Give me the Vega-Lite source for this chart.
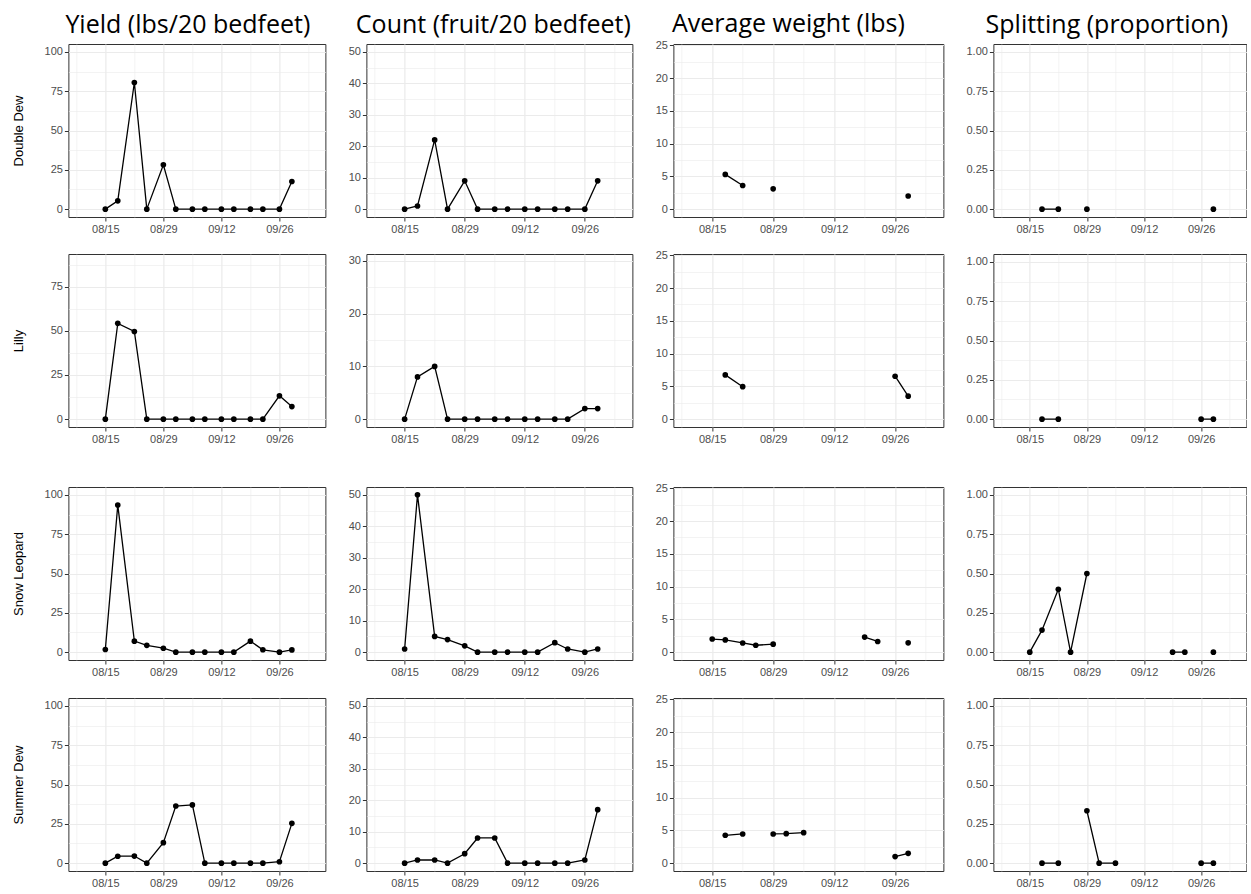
{
"$schema": "https://vega.github.io/schema/vega-lite/v6.json",
"background": "white",
"padding": {"left": 11, "top": 11, "right": 0, "bottom": 0},
"data": {"name": "d"},
"datasets": {"d": [
{"v":"Double Dew","date":"2017-08-15T00:00:00","yield":0,"count":0,"weight":null,"split":null},
{"v":"Double Dew","date":"2017-08-18T00:00:00","yield":5.3,"count":1,"weight":5.3,"split":0},
{"v":"Double Dew","date":"2017-08-22T00:00:00","yield":80.5,"count":22,"weight":3.6,"split":0},
{"v":"Double Dew","date":"2017-08-25T00:00:00","yield":0,"count":0,"weight":null,"split":null},
{"v":"Double Dew","date":"2017-08-29T00:00:00","yield":28.2,"count":9,"weight":3.1,"split":0},
{"v":"Double Dew","date":"2017-09-01T00:00:00","yield":0,"count":0,"weight":null,"split":null},
{"v":"Double Dew","date":"2017-09-05T00:00:00","yield":0,"count":0,"weight":null,"split":null},
{"v":"Double Dew","date":"2017-09-08T00:00:00","yield":0,"count":0,"weight":null,"split":null},
{"v":"Double Dew","date":"2017-09-12T00:00:00","yield":0,"count":0,"weight":null,"split":null},
{"v":"Double Dew","date":"2017-09-15T00:00:00","yield":0,"count":0,"weight":null,"split":null},
{"v":"Double Dew","date":"2017-09-19T00:00:00","yield":0,"count":0,"weight":null,"split":null},
{"v":"Double Dew","date":"2017-09-22T00:00:00","yield":0,"count":0,"weight":null,"split":null},
{"v":"Double Dew","date":"2017-09-26T00:00:00","yield":0,"count":0,"weight":null,"split":null},
{"v":"Double Dew","date":"2017-09-29T00:00:00","yield":17.6,"count":9,"weight":2.0,"split":0},
{"v":"Lilly","date":"2017-08-15T00:00:00","yield":0,"count":0,"weight":null,"split":null},
{"v":"Lilly","date":"2017-08-18T00:00:00","yield":54.2,"count":8,"weight":6.75,"split":0},
{"v":"Lilly","date":"2017-08-22T00:00:00","yield":49.6,"count":10,"weight":4.95,"split":0},
{"v":"Lilly","date":"2017-08-25T00:00:00","yield":0,"count":0,"weight":null,"split":null},
{"v":"Lilly","date":"2017-08-29T00:00:00","yield":0,"count":0,"weight":null,"split":null},
{"v":"Lilly","date":"2017-09-01T00:00:00","yield":0,"count":0,"weight":null,"split":null},
{"v":"Lilly","date":"2017-09-05T00:00:00","yield":0,"count":0,"weight":null,"split":null},
{"v":"Lilly","date":"2017-09-08T00:00:00","yield":0,"count":0,"weight":null,"split":null},
{"v":"Lilly","date":"2017-09-12T00:00:00","yield":0,"count":0,"weight":null,"split":null},
{"v":"Lilly","date":"2017-09-15T00:00:00","yield":0,"count":0,"weight":null,"split":null},
{"v":"Lilly","date":"2017-09-19T00:00:00","yield":0,"count":0,"weight":null,"split":null},
{"v":"Lilly","date":"2017-09-22T00:00:00","yield":0,"count":0,"weight":null,"split":null},
{"v":"Lilly","date":"2017-09-26T00:00:00","yield":13.2,"count":2,"weight":6.55,"split":0},
{"v":"Lilly","date":"2017-09-29T00:00:00","yield":7.1,"count":2,"weight":3.5,"split":0},
{"v":"Snow Leopard","date":"2017-08-15T00:00:00","yield":1.7,"count":1,"weight":2.0,"split":0},
{"v":"Snow Leopard","date":"2017-08-18T00:00:00","yield":93.5,"count":50,"weight":1.87,"split":0.14},
{"v":"Snow Leopard","date":"2017-08-22T00:00:00","yield":7,"count":5,"weight":1.4,"split":0.4},
{"v":"Snow Leopard","date":"2017-08-25T00:00:00","yield":4.3,"count":4,"weight":1.05,"split":0},
{"v":"Snow Leopard","date":"2017-08-29T00:00:00","yield":2.5,"count":2,"weight":1.22,"split":0.5},
{"v":"Snow Leopard","date":"2017-09-01T00:00:00","yield":0,"count":0,"weight":null,"split":null},
{"v":"Snow Leopard","date":"2017-09-05T00:00:00","yield":0,"count":0,"weight":null,"split":null},
{"v":"Snow Leopard","date":"2017-09-08T00:00:00","yield":0,"count":0,"weight":null,"split":null},
{"v":"Snow Leopard","date":"2017-09-12T00:00:00","yield":0,"count":0,"weight":null,"split":null},
{"v":"Snow Leopard","date":"2017-09-15T00:00:00","yield":0,"count":0,"weight":null,"split":null},
{"v":"Snow Leopard","date":"2017-09-19T00:00:00","yield":7,"count":3,"weight":2.3,"split":0},
{"v":"Snow Leopard","date":"2017-09-22T00:00:00","yield":1.5,"count":1,"weight":1.63,"split":0},
{"v":"Snow Leopard","date":"2017-09-26T00:00:00","yield":0,"count":0,"weight":null,"split":null},
{"v":"Snow Leopard","date":"2017-09-29T00:00:00","yield":1.4,"count":1,"weight":1.42,"split":0},
{"v":"Summer Dew","date":"2017-08-15T00:00:00","yield":0,"count":0,"weight":null,"split":null},
{"v":"Summer Dew","date":"2017-08-18T00:00:00","yield":4.4,"count":1,"weight":4.25,"split":0},
{"v":"Summer Dew","date":"2017-08-22T00:00:00","yield":4.5,"count":1,"weight":4.45,"split":0},
{"v":"Summer Dew","date":"2017-08-25T00:00:00","yield":0,"count":0,"weight":null,"split":null},
{"v":"Summer Dew","date":"2017-08-29T00:00:00","yield":13,"count":3,"weight":4.45,"split":0.333},
{"v":"Summer Dew","date":"2017-09-01T00:00:00","yield":36.3,"count":8,"weight":4.5,"split":0},
{"v":"Summer Dew","date":"2017-09-05T00:00:00","yield":37,"count":8,"weight":4.65,"split":0},
{"v":"Summer Dew","date":"2017-09-08T00:00:00","yield":0,"count":0,"weight":null,"split":null},
{"v":"Summer Dew","date":"2017-09-12T00:00:00","yield":0,"count":0,"weight":null,"split":null},
{"v":"Summer Dew","date":"2017-09-15T00:00:00","yield":0,"count":0,"weight":null,"split":null},
{"v":"Summer Dew","date":"2017-09-19T00:00:00","yield":0,"count":0,"weight":null,"split":null},
{"v":"Summer Dew","date":"2017-09-22T00:00:00","yield":0,"count":0,"weight":null,"split":null},
{"v":"Summer Dew","date":"2017-09-26T00:00:00","yield":0.9,"count":1,"weight":1.0,"split":0},
{"v":"Summer Dew","date":"2017-09-29T00:00:00","yield":25.3,"count":17,"weight":1.5,"split":0}
]},
"config": {
  "view": {"stroke": "#333333", "strokeWidth": 1},
  "axis": {"domain": false, "tickColor": "#333333", "tickSize": 4, "tickWidth": 1, "labelColor": "#4D4D4D", "labelFont": "Liberation Sans", "labelFontSize": 11, "labelPadding": 2, "gridColor": "#EBEBEB", "titleFont": "Liberation Sans", "titleFontSize": 13, "titleFontWeight": "normal", "titleColor": "black", "labelOverlap": false, "labelFlush": false, "labelBound": false},
  "title": {"font": "Open Sans", "fontSize": 25, "fontWeight": "normal", "color": "black", "anchor": "middle", "offset": 6},
  "line": {"color": "black", "strokeWidth": 1.3, "invalid": "break-paths-filter-domains"},
  "point": {"color": "black", "filled": true, "opacity": 1, "size": 32}
},
"vconcat": [
{"vconcat": [
 {"hconcat": [
  {"width": 257, "height": 173, "title": {"text": "Yield (lbs/20 bedfeet)", "dx": -9},
   "transform": [{"filter": "datum.v==='Double Dew'"}],
   "encoding": {
    "x": {"field": "date", "type": "temporal", "scale": {"domain": [{"year":2017,"month":8,"date":6,"hours":2},{"year":2017,"month":10,"date":7,"hours":2}]}, "axis": {"values": [{"year":2017,"month":8,"date":8},{"year":2017,"month":8,"date":15},{"year":2017,"month":8,"date":22},{"year":2017,"month":8,"date":29},{"year":2017,"month":9,"date":5},{"year":2017,"month":9,"date":12},{"year":2017,"month":9,"date":19},{"year":2017,"month":9,"date":26},{"year":2017,"month":10,"date":3}], "labelExpr": "round((datum.value-datetime(2017,7,15))/604800000)%2===0 ? timeFormat(datum.value,'%m/%d') : ''", "gridWidth": {"condition": {"test": "round((datum.value-datetime(2017,7,15))/604800000)%2===0", "value": 1.2}, "value": 0.6}, "tickOpacity": {"condition": {"test": "round((datum.value-datetime(2017,7,15))/604800000)%2===0", "value": 1}, "value": 0}, "title": null}},
    "y": {"field": "yield", "type": "quantitative", "scale": {"domain": [-5, 105], "nice": false, "zero": false}, "axis": {"values": [0,12.5,25,37.5,50,62.5,75,87.5,100], "labelExpr": "datum.value%25===0 ? datum.label : ''", "gridWidth": {"condition": {"test": "datum.value%25===0", "value": 1.2}, "value": 0.6}, "tickOpacity": {"condition": {"test": "datum.value%25===0", "value": 1}, "value": 0}, "title": "Double Dew", "titlePadding": 19}}
   },
   "layer": [{"mark": "line", "encoding": {}}, {"mark": "point", "encoding": {}}]},
  {"width": 266, "height": 173, "title": {"text": "Count (fruit/20 bedfeet)", "dx": -6},
   "transform": [{"filter": "datum.v==='Double Dew'"}],
   "encoding": {
    "x": {"field": "date", "type": "temporal", "scale": {"domain": [{"year":2017,"month":8,"date":6,"hours":2},{"year":2017,"month":10,"date":7,"hours":2}]}, "axis": {"values": [{"year":2017,"month":8,"date":8},{"year":2017,"month":8,"date":15},{"year":2017,"month":8,"date":22},{"year":2017,"month":8,"date":29},{"year":2017,"month":9,"date":5},{"year":2017,"month":9,"date":12},{"year":2017,"month":9,"date":19},{"year":2017,"month":9,"date":26},{"year":2017,"month":10,"date":3}], "labelExpr": "round((datum.value-datetime(2017,7,15))/604800000)%2===0 ? timeFormat(datum.value,'%m/%d') : ''", "gridWidth": {"condition": {"test": "round((datum.value-datetime(2017,7,15))/604800000)%2===0", "value": 1.2}, "value": 0.6}, "tickOpacity": {"condition": {"test": "round((datum.value-datetime(2017,7,15))/604800000)%2===0", "value": 1}, "value": 0}, "title": null}},
    "y": {"field": "count", "type": "quantitative", "scale": {"domain": [-2.5, 52.5], "nice": false, "zero": false}, "axis": {"values": [0,5,10,15,20,25,30,35,40,45,50], "labelExpr": "datum.value%10===0 ? datum.label : ''", "gridWidth": {"condition": {"test": "datum.value%10===0", "value": 1.2}, "value": 0.6}, "tickOpacity": {"condition": {"test": "datum.value%10===0", "value": 1}, "value": 0}, "title": null}}
   },
   "layer": [{"mark": "line", "encoding": {}}, {"mark": "point", "encoding": {}}]},
  {"width": 270, "height": 173, "title": {"text": "Average weight (lbs)", "dx": -20, "dy": 4},
   "transform": [{"filter": "datum.v==='Double Dew'"}],
   "encoding": {
    "x": {"field": "date", "type": "temporal", "scale": {"domain": [{"year":2017,"month":8,"date":6,"hours":2},{"year":2017,"month":10,"date":7,"hours":2}]}, "axis": {"values": [{"year":2017,"month":8,"date":8},{"year":2017,"month":8,"date":15},{"year":2017,"month":8,"date":22},{"year":2017,"month":8,"date":29},{"year":2017,"month":9,"date":5},{"year":2017,"month":9,"date":12},{"year":2017,"month":9,"date":19},{"year":2017,"month":9,"date":26},{"year":2017,"month":10,"date":3}], "labelExpr": "round((datum.value-datetime(2017,7,15))/604800000)%2===0 ? timeFormat(datum.value,'%m/%d') : ''", "gridWidth": {"condition": {"test": "round((datum.value-datetime(2017,7,15))/604800000)%2===0", "value": 1.2}, "value": 0.6}, "tickOpacity": {"condition": {"test": "round((datum.value-datetime(2017,7,15))/604800000)%2===0", "value": 1}, "value": 0}, "title": null}},
    "y": {"field": "weight", "type": "quantitative", "scale": {"domain": [-1.2, 25.2], "nice": false, "zero": false}, "axis": {"values": [0,2.5,5,7.5,10,12.5,15,17.5,20,22.5,25], "labelExpr": "datum.value%5===0 ? datum.label : ''", "gridWidth": {"condition": {"test": "datum.value%5===0", "value": 1.2}, "value": 0.6}, "tickOpacity": {"condition": {"test": "datum.value%5===0", "value": 1}, "value": 0}, "title": null}}
   },
   "layer": [{"mark": "line", "encoding": {}}, {"mark": "point", "encoding": {}}]},
  {"width": 253, "height": 173, "title": {"text": "Splitting (proportion)", "dx": -13},
   "transform": [{"filter": "datum.v==='Double Dew'"}],
   "encoding": {
    "x": {"field": "date", "type": "temporal", "scale": {"domain": [{"year":2017,"month":8,"date":6,"hours":2},{"year":2017,"month":10,"date":7,"hours":2}]}, "axis": {"values": [{"year":2017,"month":8,"date":8},{"year":2017,"month":8,"date":15},{"year":2017,"month":8,"date":22},{"year":2017,"month":8,"date":29},{"year":2017,"month":9,"date":5},{"year":2017,"month":9,"date":12},{"year":2017,"month":9,"date":19},{"year":2017,"month":9,"date":26},{"year":2017,"month":10,"date":3}], "labelExpr": "round((datum.value-datetime(2017,7,15))/604800000)%2===0 ? timeFormat(datum.value,'%m/%d') : ''", "gridWidth": {"condition": {"test": "round((datum.value-datetime(2017,7,15))/604800000)%2===0", "value": 1.2}, "value": 0.6}, "tickOpacity": {"condition": {"test": "round((datum.value-datetime(2017,7,15))/604800000)%2===0", "value": 1}, "value": 0}, "title": null}},
    "y": {"field": "split", "type": "quantitative", "scale": {"domain": [-0.05, 1.05], "nice": false, "zero": false}, "axis": {"values": [0,0.125,0.25,0.375,0.5,0.625,0.75,0.875,1], "labelExpr": "(datum.value*4)%1===0 ? format(datum.value,'.2f') : ''", "gridWidth": {"condition": {"test": "(datum.value*4)%1===0", "value": 1.2}, "value": 0.6}, "tickOpacity": {"condition": {"test": "(datum.value*4)%1===0", "value": 1}, "value": 0}, "title": null}}
   },
   "layer": [{"mark": "line", "encoding": {}}, {"mark": "point", "encoding": {}}]}
 ], "spacing": 21},
 {"hconcat": [
  {"width": 257, "height": 173,
   "transform": [{"filter": "datum.v==='Lilly'"}],
   "encoding": {
    "x": {"field": "date", "type": "temporal", "scale": {"domain": [{"year":2017,"month":8,"date":6,"hours":2},{"year":2017,"month":10,"date":7,"hours":2}]}, "axis": {"values": [{"year":2017,"month":8,"date":8},{"year":2017,"month":8,"date":15},{"year":2017,"month":8,"date":22},{"year":2017,"month":8,"date":29},{"year":2017,"month":9,"date":5},{"year":2017,"month":9,"date":12},{"year":2017,"month":9,"date":19},{"year":2017,"month":9,"date":26},{"year":2017,"month":10,"date":3}], "labelExpr": "round((datum.value-datetime(2017,7,15))/604800000)%2===0 ? timeFormat(datum.value,'%m/%d') : ''", "gridWidth": {"condition": {"test": "round((datum.value-datetime(2017,7,15))/604800000)%2===0", "value": 1.2}, "value": 0.6}, "tickOpacity": {"condition": {"test": "round((datum.value-datetime(2017,7,15))/604800000)%2===0", "value": 1}, "value": 0}, "title": null}},
    "y": {"field": "yield", "type": "quantitative", "scale": {"domain": [-4.45, 93.45], "nice": false, "zero": false}, "axis": {"values": [0,12.5,25,37.5,50,62.5,75,87.5], "labelExpr": "datum.value%25===0 ? datum.label : ''", "gridWidth": {"condition": {"test": "datum.value%25===0", "value": 1.2}, "value": 0.6}, "tickOpacity": {"condition": {"test": "datum.value%25===0", "value": 1}, "value": 0}, "title": "Lilly", "titlePadding": 25}}
   },
   "layer": [{"mark": "line", "encoding": {}}, {"mark": "point", "encoding": {}}]},
  {"width": 266, "height": 173,
   "transform": [{"filter": "datum.v==='Lilly'"}],
   "encoding": {
    "x": {"field": "date", "type": "temporal", "scale": {"domain": [{"year":2017,"month":8,"date":6,"hours":2},{"year":2017,"month":10,"date":7,"hours":2}]}, "axis": {"values": [{"year":2017,"month":8,"date":8},{"year":2017,"month":8,"date":15},{"year":2017,"month":8,"date":22},{"year":2017,"month":8,"date":29},{"year":2017,"month":9,"date":5},{"year":2017,"month":9,"date":12},{"year":2017,"month":9,"date":19},{"year":2017,"month":9,"date":26},{"year":2017,"month":10,"date":3}], "labelExpr": "round((datum.value-datetime(2017,7,15))/604800000)%2===0 ? timeFormat(datum.value,'%m/%d') : ''", "gridWidth": {"condition": {"test": "round((datum.value-datetime(2017,7,15))/604800000)%2===0", "value": 1.2}, "value": 0.6}, "tickOpacity": {"condition": {"test": "round((datum.value-datetime(2017,7,15))/604800000)%2===0", "value": 1}, "value": 0}, "title": null}},
    "y": {"field": "count", "type": "quantitative", "scale": {"domain": [-1.49, 31.3], "nice": false, "zero": false}, "axis": {"values": [0,5,10,15,20,25,30], "labelExpr": "datum.value%10===0 ? datum.label : ''", "gridWidth": {"condition": {"test": "datum.value%10===0", "value": 1.2}, "value": 0.6}, "tickOpacity": {"condition": {"test": "datum.value%10===0", "value": 1}, "value": 0}, "title": null}}
   },
   "layer": [{"mark": "line", "encoding": {}}, {"mark": "point", "encoding": {}}]},
  {"width": 270, "height": 173,
   "transform": [{"filter": "datum.v==='Lilly'"}],
   "encoding": {
    "x": {"field": "date", "type": "temporal", "scale": {"domain": [{"year":2017,"month":8,"date":6,"hours":2},{"year":2017,"month":10,"date":7,"hours":2}]}, "axis": {"values": [{"year":2017,"month":8,"date":8},{"year":2017,"month":8,"date":15},{"year":2017,"month":8,"date":22},{"year":2017,"month":8,"date":29},{"year":2017,"month":9,"date":5},{"year":2017,"month":9,"date":12},{"year":2017,"month":9,"date":19},{"year":2017,"month":9,"date":26},{"year":2017,"month":10,"date":3}], "labelExpr": "round((datum.value-datetime(2017,7,15))/604800000)%2===0 ? timeFormat(datum.value,'%m/%d') : ''", "gridWidth": {"condition": {"test": "round((datum.value-datetime(2017,7,15))/604800000)%2===0", "value": 1.2}, "value": 0.6}, "tickOpacity": {"condition": {"test": "round((datum.value-datetime(2017,7,15))/604800000)%2===0", "value": 1}, "value": 0}, "title": null}},
    "y": {"field": "weight", "type": "quantitative", "scale": {"domain": [-1.2, 25.2], "nice": false, "zero": false}, "axis": {"values": [0,2.5,5,7.5,10,12.5,15,17.5,20,22.5,25], "labelExpr": "datum.value%5===0 ? datum.label : ''", "gridWidth": {"condition": {"test": "datum.value%5===0", "value": 1.2}, "value": 0.6}, "tickOpacity": {"condition": {"test": "datum.value%5===0", "value": 1}, "value": 0}, "title": null}}
   },
   "layer": [{"mark": "line", "encoding": {}}, {"mark": "point", "encoding": {}}]},
  {"width": 253, "height": 173,
   "transform": [{"filter": "datum.v==='Lilly'"}],
   "encoding": {
    "x": {"field": "date", "type": "temporal", "scale": {"domain": [{"year":2017,"month":8,"date":6,"hours":2},{"year":2017,"month":10,"date":7,"hours":2}]}, "axis": {"values": [{"year":2017,"month":8,"date":8},{"year":2017,"month":8,"date":15},{"year":2017,"month":8,"date":22},{"year":2017,"month":8,"date":29},{"year":2017,"month":9,"date":5},{"year":2017,"month":9,"date":12},{"year":2017,"month":9,"date":19},{"year":2017,"month":9,"date":26},{"year":2017,"month":10,"date":3}], "labelExpr": "round((datum.value-datetime(2017,7,15))/604800000)%2===0 ? timeFormat(datum.value,'%m/%d') : ''", "gridWidth": {"condition": {"test": "round((datum.value-datetime(2017,7,15))/604800000)%2===0", "value": 1.2}, "value": 0.6}, "tickOpacity": {"condition": {"test": "round((datum.value-datetime(2017,7,15))/604800000)%2===0", "value": 1}, "value": 0}, "title": null}},
    "y": {"field": "split", "type": "quantitative", "scale": {"domain": [-0.05, 1.05], "nice": false, "zero": false}, "axis": {"values": [0,0.125,0.25,0.375,0.5,0.625,0.75,0.875,1], "labelExpr": "(datum.value*4)%1===0 ? format(datum.value,'.2f') : ''", "gridWidth": {"condition": {"test": "(datum.value*4)%1===0", "value": 1.2}, "value": 0.6}, "tickOpacity": {"condition": {"test": "(datum.value*4)%1===0", "value": 1}, "value": 0}, "title": null}}
   },
   "layer": [{"mark": "line", "encoding": {}}, {"mark": "point", "encoding": {}}]}
 ], "spacing": 21}
], "spacing": 13, "center": true},
{"vconcat": [
 {"hconcat": [
  {"width": 257, "height": 173,
   "transform": [{"filter": "datum.v==='Snow Leopard'"}],
   "encoding": {
    "x": {"field": "date", "type": "temporal", "scale": {"domain": [{"year":2017,"month":8,"date":6,"hours":2},{"year":2017,"month":10,"date":7,"hours":2}]}, "axis": {"values": [{"year":2017,"month":8,"date":8},{"year":2017,"month":8,"date":15},{"year":2017,"month":8,"date":22},{"year":2017,"month":8,"date":29},{"year":2017,"month":9,"date":5},{"year":2017,"month":9,"date":12},{"year":2017,"month":9,"date":19},{"year":2017,"month":9,"date":26},{"year":2017,"month":10,"date":3}], "labelExpr": "round((datum.value-datetime(2017,7,15))/604800000)%2===0 ? timeFormat(datum.value,'%m/%d') : ''", "gridWidth": {"condition": {"test": "round((datum.value-datetime(2017,7,15))/604800000)%2===0", "value": 1.2}, "value": 0.6}, "tickOpacity": {"condition": {"test": "round((datum.value-datetime(2017,7,15))/604800000)%2===0", "value": 1}, "value": 0}, "title": null}},
    "y": {"field": "yield", "type": "quantitative", "scale": {"domain": [-5, 105], "nice": false, "zero": false}, "axis": {"values": [0,12.5,25,37.5,50,62.5,75,87.5,100], "labelExpr": "datum.value%25===0 ? datum.label : ''", "gridWidth": {"condition": {"test": "datum.value%25===0", "value": 1.2}, "value": 0.6}, "tickOpacity": {"condition": {"test": "datum.value%25===0", "value": 1}, "value": 0}, "title": "Snow Leopard", "titlePadding": 19}}
   },
   "layer": [{"mark": "line", "encoding": {}}, {"mark": "point", "encoding": {}}]},
  {"width": 266, "height": 173,
   "transform": [{"filter": "datum.v==='Snow Leopard'"}],
   "encoding": {
    "x": {"field": "date", "type": "temporal", "scale": {"domain": [{"year":2017,"month":8,"date":6,"hours":2},{"year":2017,"month":10,"date":7,"hours":2}]}, "axis": {"values": [{"year":2017,"month":8,"date":8},{"year":2017,"month":8,"date":15},{"year":2017,"month":8,"date":22},{"year":2017,"month":8,"date":29},{"year":2017,"month":9,"date":5},{"year":2017,"month":9,"date":12},{"year":2017,"month":9,"date":19},{"year":2017,"month":9,"date":26},{"year":2017,"month":10,"date":3}], "labelExpr": "round((datum.value-datetime(2017,7,15))/604800000)%2===0 ? timeFormat(datum.value,'%m/%d') : ''", "gridWidth": {"condition": {"test": "round((datum.value-datetime(2017,7,15))/604800000)%2===0", "value": 1.2}, "value": 0.6}, "tickOpacity": {"condition": {"test": "round((datum.value-datetime(2017,7,15))/604800000)%2===0", "value": 1}, "value": 0}, "title": null}},
    "y": {"field": "count", "type": "quantitative", "scale": {"domain": [-2.5, 52.5], "nice": false, "zero": false}, "axis": {"values": [0,5,10,15,20,25,30,35,40,45,50], "labelExpr": "datum.value%10===0 ? datum.label : ''", "gridWidth": {"condition": {"test": "datum.value%10===0", "value": 1.2}, "value": 0.6}, "tickOpacity": {"condition": {"test": "datum.value%10===0", "value": 1}, "value": 0}, "title": null}}
   },
   "layer": [{"mark": "line", "encoding": {}}, {"mark": "point", "encoding": {}}]},
  {"width": 270, "height": 173,
   "transform": [{"filter": "datum.v==='Snow Leopard'"}],
   "encoding": {
    "x": {"field": "date", "type": "temporal", "scale": {"domain": [{"year":2017,"month":8,"date":6,"hours":2},{"year":2017,"month":10,"date":7,"hours":2}]}, "axis": {"values": [{"year":2017,"month":8,"date":8},{"year":2017,"month":8,"date":15},{"year":2017,"month":8,"date":22},{"year":2017,"month":8,"date":29},{"year":2017,"month":9,"date":5},{"year":2017,"month":9,"date":12},{"year":2017,"month":9,"date":19},{"year":2017,"month":9,"date":26},{"year":2017,"month":10,"date":3}], "labelExpr": "round((datum.value-datetime(2017,7,15))/604800000)%2===0 ? timeFormat(datum.value,'%m/%d') : ''", "gridWidth": {"condition": {"test": "round((datum.value-datetime(2017,7,15))/604800000)%2===0", "value": 1.2}, "value": 0.6}, "tickOpacity": {"condition": {"test": "round((datum.value-datetime(2017,7,15))/604800000)%2===0", "value": 1}, "value": 0}, "title": null}},
    "y": {"field": "weight", "type": "quantitative", "scale": {"domain": [-1.2, 25.2], "nice": false, "zero": false}, "axis": {"values": [0,2.5,5,7.5,10,12.5,15,17.5,20,22.5,25], "labelExpr": "datum.value%5===0 ? datum.label : ''", "gridWidth": {"condition": {"test": "datum.value%5===0", "value": 1.2}, "value": 0.6}, "tickOpacity": {"condition": {"test": "datum.value%5===0", "value": 1}, "value": 0}, "title": null}}
   },
   "layer": [{"mark": "line", "encoding": {}}, {"mark": "point", "encoding": {}}]},
  {"width": 253, "height": 173,
   "transform": [{"filter": "datum.v==='Snow Leopard'"}],
   "encoding": {
    "x": {"field": "date", "type": "temporal", "scale": {"domain": [{"year":2017,"month":8,"date":6,"hours":2},{"year":2017,"month":10,"date":7,"hours":2}]}, "axis": {"values": [{"year":2017,"month":8,"date":8},{"year":2017,"month":8,"date":15},{"year":2017,"month":8,"date":22},{"year":2017,"month":8,"date":29},{"year":2017,"month":9,"date":5},{"year":2017,"month":9,"date":12},{"year":2017,"month":9,"date":19},{"year":2017,"month":9,"date":26},{"year":2017,"month":10,"date":3}], "labelExpr": "round((datum.value-datetime(2017,7,15))/604800000)%2===0 ? timeFormat(datum.value,'%m/%d') : ''", "gridWidth": {"condition": {"test": "round((datum.value-datetime(2017,7,15))/604800000)%2===0", "value": 1.2}, "value": 0.6}, "tickOpacity": {"condition": {"test": "round((datum.value-datetime(2017,7,15))/604800000)%2===0", "value": 1}, "value": 0}, "title": null}},
    "y": {"field": "split", "type": "quantitative", "scale": {"domain": [-0.05, 1.05], "nice": false, "zero": false}, "axis": {"values": [0,0.125,0.25,0.375,0.5,0.625,0.75,0.875,1], "labelExpr": "(datum.value*4)%1===0 ? format(datum.value,'.2f') : ''", "gridWidth": {"condition": {"test": "(datum.value*4)%1===0", "value": 1.2}, "value": 0.6}, "tickOpacity": {"condition": {"test": "(datum.value*4)%1===0", "value": 1}, "value": 0}, "title": null}}
   },
   "layer": [{"mark": "line", "encoding": {}}, {"mark": "point", "encoding": {}}]}
 ], "spacing": 21},
 {"hconcat": [
  {"width": 257, "height": 173,
   "transform": [{"filter": "datum.v==='Summer Dew'"}],
   "encoding": {
    "x": {"field": "date", "type": "temporal", "scale": {"domain": [{"year":2017,"month":8,"date":6,"hours":2},{"year":2017,"month":10,"date":7,"hours":2}]}, "axis": {"values": [{"year":2017,"month":8,"date":8},{"year":2017,"month":8,"date":15},{"year":2017,"month":8,"date":22},{"year":2017,"month":8,"date":29},{"year":2017,"month":9,"date":5},{"year":2017,"month":9,"date":12},{"year":2017,"month":9,"date":19},{"year":2017,"month":9,"date":26},{"year":2017,"month":10,"date":3}], "labelExpr": "round((datum.value-datetime(2017,7,15))/604800000)%2===0 ? timeFormat(datum.value,'%m/%d') : ''", "gridWidth": {"condition": {"test": "round((datum.value-datetime(2017,7,15))/604800000)%2===0", "value": 1.2}, "value": 0.6}, "tickOpacity": {"condition": {"test": "round((datum.value-datetime(2017,7,15))/604800000)%2===0", "value": 1}, "value": 0}, "title": null}},
    "y": {"field": "yield", "type": "quantitative", "scale": {"domain": [-5, 105], "nice": false, "zero": false}, "axis": {"values": [0,12.5,25,37.5,50,62.5,75,87.5,100], "labelExpr": "datum.value%25===0 ? datum.label : ''", "gridWidth": {"condition": {"test": "datum.value%25===0", "value": 1.2}, "value": 0.6}, "tickOpacity": {"condition": {"test": "datum.value%25===0", "value": 1}, "value": 0}, "title": "Summer Dew", "titlePadding": 19}}
   },
   "layer": [{"mark": "line", "encoding": {}}, {"mark": "point", "encoding": {}}]},
  {"width": 266, "height": 173,
   "transform": [{"filter": "datum.v==='Summer Dew'"}],
   "encoding": {
    "x": {"field": "date", "type": "temporal", "scale": {"domain": [{"year":2017,"month":8,"date":6,"hours":2},{"year":2017,"month":10,"date":7,"hours":2}]}, "axis": {"values": [{"year":2017,"month":8,"date":8},{"year":2017,"month":8,"date":15},{"year":2017,"month":8,"date":22},{"year":2017,"month":8,"date":29},{"year":2017,"month":9,"date":5},{"year":2017,"month":9,"date":12},{"year":2017,"month":9,"date":19},{"year":2017,"month":9,"date":26},{"year":2017,"month":10,"date":3}], "labelExpr": "round((datum.value-datetime(2017,7,15))/604800000)%2===0 ? timeFormat(datum.value,'%m/%d') : ''", "gridWidth": {"condition": {"test": "round((datum.value-datetime(2017,7,15))/604800000)%2===0", "value": 1.2}, "value": 0.6}, "tickOpacity": {"condition": {"test": "round((datum.value-datetime(2017,7,15))/604800000)%2===0", "value": 1}, "value": 0}, "title": null}},
    "y": {"field": "count", "type": "quantitative", "scale": {"domain": [-2.5, 52.5], "nice": false, "zero": false}, "axis": {"values": [0,5,10,15,20,25,30,35,40,45,50], "labelExpr": "datum.value%10===0 ? datum.label : ''", "gridWidth": {"condition": {"test": "datum.value%10===0", "value": 1.2}, "value": 0.6}, "tickOpacity": {"condition": {"test": "datum.value%10===0", "value": 1}, "value": 0}, "title": null}}
   },
   "layer": [{"mark": "line", "encoding": {}}, {"mark": "point", "encoding": {}}]},
  {"width": 270, "height": 173,
   "transform": [{"filter": "datum.v==='Summer Dew'"}],
   "encoding": {
    "x": {"field": "date", "type": "temporal", "scale": {"domain": [{"year":2017,"month":8,"date":6,"hours":2},{"year":2017,"month":10,"date":7,"hours":2}]}, "axis": {"values": [{"year":2017,"month":8,"date":8},{"year":2017,"month":8,"date":15},{"year":2017,"month":8,"date":22},{"year":2017,"month":8,"date":29},{"year":2017,"month":9,"date":5},{"year":2017,"month":9,"date":12},{"year":2017,"month":9,"date":19},{"year":2017,"month":9,"date":26},{"year":2017,"month":10,"date":3}], "labelExpr": "round((datum.value-datetime(2017,7,15))/604800000)%2===0 ? timeFormat(datum.value,'%m/%d') : ''", "gridWidth": {"condition": {"test": "round((datum.value-datetime(2017,7,15))/604800000)%2===0", "value": 1.2}, "value": 0.6}, "tickOpacity": {"condition": {"test": "round((datum.value-datetime(2017,7,15))/604800000)%2===0", "value": 1}, "value": 0}, "title": null}},
    "y": {"field": "weight", "type": "quantitative", "scale": {"domain": [-1.2, 25.2], "nice": false, "zero": false}, "axis": {"values": [0,2.5,5,7.5,10,12.5,15,17.5,20,22.5,25], "labelExpr": "datum.value%5===0 ? datum.label : ''", "gridWidth": {"condition": {"test": "datum.value%5===0", "value": 1.2}, "value": 0.6}, "tickOpacity": {"condition": {"test": "datum.value%5===0", "value": 1}, "value": 0}, "title": null}}
   },
   "layer": [{"mark": "line", "encoding": {}}, {"mark": "point", "encoding": {}}]},
  {"width": 253, "height": 173,
   "transform": [{"filter": "datum.v==='Summer Dew'"}],
   "encoding": {
    "x": {"field": "date", "type": "temporal", "scale": {"domain": [{"year":2017,"month":8,"date":6,"hours":2},{"year":2017,"month":10,"date":7,"hours":2}]}, "axis": {"values": [{"year":2017,"month":8,"date":8},{"year":2017,"month":8,"date":15},{"year":2017,"month":8,"date":22},{"year":2017,"month":8,"date":29},{"year":2017,"month":9,"date":5},{"year":2017,"month":9,"date":12},{"year":2017,"month":9,"date":19},{"year":2017,"month":9,"date":26},{"year":2017,"month":10,"date":3}], "labelExpr": "round((datum.value-datetime(2017,7,15))/604800000)%2===0 ? timeFormat(datum.value,'%m/%d') : ''", "gridWidth": {"condition": {"test": "round((datum.value-datetime(2017,7,15))/604800000)%2===0", "value": 1.2}, "value": 0.6}, "tickOpacity": {"condition": {"test": "round((datum.value-datetime(2017,7,15))/604800000)%2===0", "value": 1}, "value": 0}, "title": null}},
    "y": {"field": "split", "type": "quantitative", "scale": {"domain": [-0.05, 1.05], "nice": false, "zero": false}, "axis": {"values": [0,0.125,0.25,0.375,0.5,0.625,0.75,0.875,1], "labelExpr": "(datum.value*4)%1===0 ? format(datum.value,'.2f') : ''", "gridWidth": {"condition": {"test": "(datum.value*4)%1===0", "value": 1.2}, "value": 0.6}, "tickOpacity": {"condition": {"test": "(datum.value*4)%1===0", "value": 1}, "value": 0}, "title": null}}
   },
   "layer": [{"mark": "line", "encoding": {}}, {"mark": "point", "encoding": {}}]}
 ], "spacing": 21}
], "spacing": 14, "center": true}
], "spacing": 36, "center": true}
